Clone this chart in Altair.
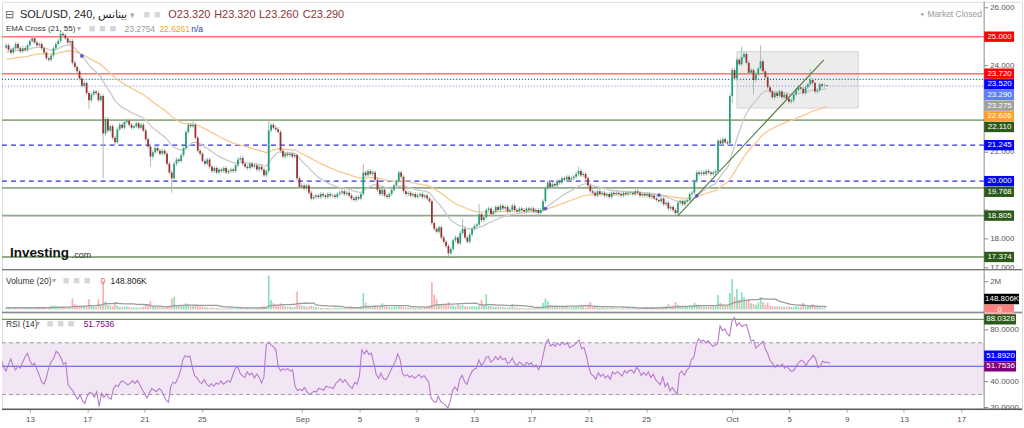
import altair as alt
import pandas as pd
import numpy as np

# ---------------- data ----------------
# 4-hour closes, one row per day, 2023-08-11 .. 2023-10-07
closes_by_day = [
    [24.70, 24.55, 24.45, 24.60, 24.75, 24.60],  # Aug 11
    [24.50, 24.60, 24.55, 24.70, 24.85, 24.95],  # Aug 12
    [24.80, 24.70, 24.75, 24.60, 24.45, 24.25],  # Aug 13
    [24.20, 24.35, 24.60, 24.75, 24.85, 25.10],  # Aug 14
    [25.05, 24.95, 24.80, 24.85, 24.10, 23.95],  # Aug 15
    [23.80, 23.55, 23.30, 23.40, 23.05, 22.80],  # Aug 16
    [23.00, 23.10, 23.05, 22.80, 22.95, 21.65],  # Aug 17
    [22.15, 21.75, 21.90, 21.50, 21.35, 21.80],  # Aug 18
    [21.95, 21.85, 22.05, 22.10, 21.95, 21.85],  # Aug 19
    [21.90, 22.00, 21.85, 21.95, 21.75, 21.45],  # Aug 20
    [21.20, 20.85, 21.00, 21.15, 21.05, 20.95],  # Aug 21
    [21.05, 20.95, 20.60, 20.30, 20.10, 20.60],  # Aug 22
    [20.75, 20.70, 20.90, 21.15, 21.70, 21.95],  # Aug 23
    [21.90, 21.95, 21.50, 21.05, 20.95, 20.70],  # Aug 24
    [20.60, 20.75, 20.50, 20.35, 20.45, 20.30],  # Aug 25
    [20.40, 20.35, 20.45, 20.30, 20.35, 20.40],  # Aug 26
    [20.35, 20.55, 20.75, 20.80, 20.60, 20.50],  # Aug 27
    [20.45, 20.60, 20.50, 20.55, 20.40, 20.50],  # Aug 28
    [20.40, 20.20, 20.35, 21.75, 21.95, 21.85],  # Aug 29
    [21.80, 21.70, 21.05, 20.85, 20.95, 20.90],  # Aug 30
    [20.95, 20.85, 20.90, 20.10, 19.80, 19.85],  # Aug 31
    [19.75, 19.85, 19.60, 19.40, 19.45, 19.50],  # Sep 1
    [19.45, 19.55, 19.50, 19.45, 19.55, 19.50],  # Sep 2
    [19.50, 19.45, 19.55, 19.60, 19.65, 19.55],  # Sep 3
    [19.60, 19.50, 19.40, 19.35, 19.45, 19.40],  # Sep 4
    [19.55, 20.30, 20.20, 20.35, 20.25, 20.30],  # Sep 5
    [20.05, 19.70, 19.55, 19.70, 19.50, 19.45],  # Sep 6
    [19.55, 19.70, 19.85, 20.00, 20.30, 20.15],  # Sep 7
    [19.65, 19.55, 19.60, 19.50, 19.55, 19.45],  # Sep 8
    [19.50, 19.55, 19.45, 19.50, 19.40, 19.30],  # Sep 9
    [18.55, 18.35, 18.25, 18.40, 18.05, 17.90],  # Sep 10
    [17.75, 17.50, 17.65, 17.95, 18.05, 17.85],  # Sep 11
    [18.20, 18.35, 18.05, 17.90, 18.15, 18.35],  # Sep 12
    [18.45, 18.50, 18.85, 18.65, 18.75, 19.00],  # Sep 13
    [19.05, 18.85, 18.95, 19.10, 19.00, 19.15],  # Sep 14
    [19.05, 19.10, 18.95, 19.00, 19.15, 19.00],  # Sep 15
    [18.95, 19.05, 19.00, 18.95, 19.05, 19.00],  # Sep 16
    [19.05, 18.95, 19.00, 18.90, 19.00, 19.30],  # Sep 17
    [19.75, 19.95, 19.80, 19.90, 19.85, 20.00],  # Sep 18
    [19.95, 20.10, 20.05, 20.15, 20.05, 20.10],  # Sep 19
    [20.15, 20.25, 20.35, 20.20, 20.25, 20.10],  # Sep 20
    [19.85, 19.65, 19.60, 19.50, 19.65, 19.55],  # Sep 21
    [19.60, 19.50, 19.55, 19.45, 19.60, 19.55],  # Sep 22
    [19.60, 19.55, 19.50, 19.60, 19.55, 19.60],  # Sep 23
    [19.60, 19.55, 19.65, 19.60, 19.50, 19.55],  # Sep 24
    [19.50, 19.55, 19.45, 19.50, 19.40, 19.35],  # Sep 25
    [19.30, 19.40, 19.20, 19.25, 19.05, 19.10],  # Sep 26
    [19.00, 18.90, 19.25, 19.30, 19.20, 19.30],  # Sep 27
    [19.35, 19.55, 19.60, 20.00, 20.30, 20.25],  # Sep 28
    [20.30, 20.25, 20.35, 20.30, 20.25, 20.30],  # Sep 29
    [20.35, 21.40, 21.30, 21.45, 21.35, 21.30],  # Sep 30
    [22.95, 23.85, 23.55, 24.20, 24.05, 24.30],  # Oct 1
    [24.40, 24.10, 23.75, 23.85, 23.50, 23.70],  # Oct 2
    [23.90, 24.15, 23.80, 23.60, 23.25, 23.10],  # Oct 3
    [22.90, 23.05, 22.95, 23.10, 22.90, 23.00],  # Oct 4
    [22.85, 22.75, 22.80, 23.00, 23.15, 23.25],  # Oct 5
    [23.20, 23.05, 23.25, 23.35, 23.50, 23.40],  # Oct 6
    [23.10, 23.15, 23.35, 23.30, 23.32, 23.29],  # Oct 7
]

# 4-hour volumes in thousands, same layout
volumes_by_day = [
    [150, 120, 100, 180, 130, 110], [200, 120, 90, 110, 160, 180],
    [140, 110, 120, 130, 150, 170], [160, 300, 280, 260, 200, 250],
    [220, 150, 140, 160, 800, 400], [300, 250, 200, 280, 220, 750],
    [300, 200, 180, 750, 250, 2050], [600, 350, 300, 250, 550, 300],
    [200, 180, 220, 250, 180, 150], [150, 170, 140, 160, 200, 350],
    [300, 600, 250, 200, 180, 150], [150, 160, 200, 250, 800, 900],
    [300, 250, 200, 280, 450, 350], [250, 300, 350, 280, 220, 200],
    [180, 150, 140, 130, 120, 110], [100, 90, 80, 90, 100, 95],
    [100, 150, 180, 130, 110, 120], [150, 130, 120, 140, 160, 180],
    [200, 250, 180, 2450, 700, 450], [350, 300, 450, 300, 250, 200],
    [200, 180, 220, 1300, 400, 300], [250, 200, 220, 280, 200, 180],
    [150, 120, 100, 110, 120, 100], [100, 110, 120, 130, 110, 150],
    [150, 180, 200, 160, 170, 180], [250, 1200, 500, 300, 250, 200],
    [300, 250, 220, 450, 200, 180], [170, 160, 180, 200, 250, 200],
    [180, 150, 160, 170, 150, 140], [130, 120, 140, 150, 200, 300],
    [1980, 1100, 750, 400, 350, 300], [350, 550, 300, 280, 250, 400],
    [300, 350, 250, 220, 200, 250], [250, 220, 300, 700, 350, 1100],
    [300, 250, 200, 180, 220, 200], [180, 160, 170, 150, 400, 200],
    [130, 120, 110, 100, 120, 110], [100, 110, 120, 130, 150, 500],
    [800, 600, 350, 300, 250, 220], [200, 220, 180, 200, 150, 170],
    [180, 200, 250, 300, 180, 160], [350, 550, 250, 200, 180, 150],
    [150, 140, 130, 120, 140, 130], [100, 90, 80, 90, 100, 90],
    [90, 100, 110, 90, 120, 130], [150, 160, 140, 150, 170, 200],
    [180, 200, 220, 250, 400, 250], [300, 550, 350, 250, 220, 200],
    [250, 300, 280, 500, 350, 300], [250, 220, 200, 180, 200, 220],
    [250, 1050, 500, 350, 300, 280], [1200, 2200, 900, 1500, 700, 1250],
    [900, 700, 750, 450, 400, 350], [500, 900, 550, 350, 500, 300],
    [250, 230, 220, 250, 200, 180], [200, 220, 180, 200, 250, 220],
    [200, 500, 250, 220, 300, 400], [200, 180, 170, 160, 150, 0],
]

first_open = 24.62
base_wick = 0.07
wick_high = {
    "2023-08-12 20:00": 25.00, "2023-08-14 20:00": 25.20, "2023-08-24 04:00": 22.10,
    "2023-08-29 12:00": 22.10, "2023-09-05 04:00": 20.60, "2023-09-12 04:00": 18.70,
    "2023-09-13 08:00": 19.20, "2023-09-20 08:00": 20.50, "2023-10-01 20:00": 24.66,
    "2023-10-03 04:00": 24.70, "2023-10-06 16:00": 23.90, "2023-10-07 20:00": 23.32,
}
wick_low = {
    "2023-08-16 20:00": 22.50, "2023-08-17 20:00": 20.10, "2023-08-21 04:00": 20.50,
    "2023-08-22 16:00": 19.60, "2023-09-11 04:00": 17.374, "2023-09-27 04:00": 18.82,
    "2023-10-01 04:00": 22.70, "2023-10-02 16:00": 23.00, "2023-10-07 20:00": 23.26,
}
ema_fast_seed, ema_slow_seed = 24.45, 24.20
rsi_gain_seed, rsi_loss_seed = 0.060, 0.050

red_levels = [25.0, 23.72]
blue_dot_levels = [23.52]
lightblue_dot_levels = [23.29]
blue_dash_levels = [21.245, 20.0]
green_levels = [22.11, 19.768, 18.805, 17.374]

trend_times = ["2023-09-27 08:00", "2023-10-07 15:00"]
trend_prices = [18.80, 24.20]
zone_times = ["2023-10-01 12:00", "2023-10-10 01:00"]
zone_prices = [22.53, 24.48]

price_tick_values = [17, 18, 19, 20, 21, 22, 23, 24, 25, 26]
price_tick_labels = [26, 24, 21, 18, 17]
price_label_values = [25.0, 23.72, 23.52, 23.29, 23.275, 22.626, 22.11, 21.245, 20.0, 19.768, 18.805, 17.374]
price_label_colors = ["#ff0000", "#ff0000", "#0000ff", "#5f7fff", "#a0a0a0", "#ffa126",
                      "#2d5a1b", "#0000ff", "#0000ff", "#2d5a1b", "#2d5a1b", "#2d5a1b"]
vol_label_values = [0, 148.806]
vol_label_texts = ["0", "148.806K"]
vol_label_colors = ["#ff8080", "#000000"]
rsi_levels = [88.0328, 51.892]
rsi_level_colors = ["#6f9a5c", "#5050e0"]
rsi_label_values = [51.7536, 51.892, 88.0328]
rsi_label_colors = ["#800080", "#0000ff", "#2d5a1b"]
rsi_tick_labels = [80, 40, 20]

date_ticks = ["2023-08-13", "2023-08-17", "2023-08-21", "2023-08-25", "2023-09-01", "2023-09-05",
              "2023-09-09", "2023-09-13", "2023-09-17", "2023-09-21", "2023-09-25", "2023-10-01",
              "2023-10-05", "2023-10-09", "2023-10-13", "2023-10-17"]

# ---------------- derived values ----------------
def ms(s):
    return int(pd.Timestamp(s, tz="UTC").value // 10**6)

closes = [c for day in closes_by_day for c in day]
vols = [v for day in volumes_by_day for v in day]
n = len(closes)
times = pd.date_range("2023-08-11 00:00", periods=n, freq="4h", tz="UTC")
t_ms = (times.asi8 // 10**6).tolist()
keys = times.strftime("%Y-%m-%d %H:%M").tolist()
opens = [first_open] + closes[:-1]
highs, lows = [], []
for k, o, c in zip(keys, opens, closes):
    highs.append(wick_high.get(k, max(o, c) + base_wick))
    lows.append(wick_low.get(k, min(o, c) - base_wick))

def ema(vals, span, seed):
    a = 2.0 / (span + 1)
    e, out = seed, []
    for v in vals:
        e = a * v + (1 - a) * e
        out.append(e)
    return out

ema21 = ema(closes, 21, ema_fast_seed)
ema55 = ema(closes, 55, ema_slow_seed)

ag, al, rsi = rsi_gain_seed, rsi_loss_seed, []
for o_prev, c in zip(opens, closes):
    ch = c - o_prev
    ag = (ag * 13 + max(ch, 0)) / 14
    al = (al * 13 + max(-ch, 0)) / 14
    rsi.append(100 - 100 / (1 + ag / al))

up = [c >= o for o, c in zip(opens, closes)]
body_lo = [min(o, c) for o, c in zip(opens, closes)]
body_hi = [max(max(o, c), min(o, c) + 0.02) for o, c in zip(opens, closes)]

df = pd.DataFrame({
    "t": t_ms, "open": opens, "close": closes, "high": highs, "low": lows,
    "blo": body_lo, "bhi": body_hi,
    "ccol": ["#26a07a" if u else "#9e3131" for u in up],
    "vcol": ["#86e3bb" if u else "#fbb0b0" for u in up],
    "vol": vols, "volma": pd.Series(vols).rolling(20, min_periods=1).mean(),
    "ema21": ema21, "ema55": ema55, "rsi": rsi,
})
diff = np.sign(np.array(ema21) - np.array(ema55))
cross_idx = [i for i in range(1, n) if diff[i] != diff[i - 1]]
df_cross = df.iloc[cross_idx]

# ---------------- layout / style ----------------
W = 1024
AX = 986
H_P, H_V, H_R = 269, 43, 97
P_DOM = [16.931, 26.207]
V_DOM = [-214, 2857]
R_DOM = [18.69, 93.31]
FONT = "Liberation Sans"
DUMMY = pd.DataFrame({"a": [0]})
XS = alt.Scale(type="utc", domain=[ms("2023-08-11 01:17"), ms("2023-10-21 05:44")], nice=False)
PS = alt.Scale(domain=P_DOM, nice=False, zero=False)
VS = alt.Scale(domain=V_DOM, nice=False, zero=False)
RS = alt.Scale(domain=R_DOM, nice=False, zero=False)


def X(field="t", axis=None):
    return alt.X(f"{field}:T", scale=XS, axis=axis)


def Y(field, scale):
    return alt.Y(f"{field}:Q", scale=scale, axis=None)


def txt(s, x, y, color="#333", size=8.5, weight="normal", align="left"):
    return alt.Chart(DUMMY).mark_text(
        text=s, align=align, baseline="middle", color=color, fontSize=size,
        fontWeight=weight, font=FONT).encode(x=alt.value(x), y=alt.value(y))


def hlines(values, scale, color, width=1.0, dash=None, opacity=1.0):
    kw = dict(color=color, strokeWidth=width, opacity=opacity)
    if dash:
        kw["strokeDash"] = dash
    return alt.Chart(pd.DataFrame({"v": values})).mark_rule(**kw).encode(
        x=alt.value(0), x2=alt.value(AX), y=Y("v", scale))


def stack_labels(values, scale_dom, height, gap_px=10.7, downward=True):
    per_unit = height / (scale_dom[1] - scale_dom[0])
    gap = gap_px / per_unit
    out, prev = [], None
    for v in values:
        if prev is None:
            d = v
        elif downward:
            d = min(v, prev - gap)
        else:
            d = max(v, prev + gap)
        out.append(d)
        prev = d
    return out


def label_boxes(values, texts, colors, scale, dom, height, box_w, downward=True):
    disp = stack_labels(values, dom, height, downward=downward)
    r = box_w / 2.0
    hh = 5.2 / r
    path = f"M-1,-{hh:.4f}L1,-{hh:.4f}L1,{hh:.4f}L-1,{hh:.4f}Z"
    d = pd.DataFrame({"d": disp, "txt": texts, "col": colors})
    cx = AX + r
    box = alt.Chart(d).mark_point(filled=True, opacity=1, shape=path, size=box_w * box_w,
                                  strokeWidth=0).encode(
        x=alt.value(cx), y=Y("d", scale), color=alt.Color("col:N", scale=None))
    lab = alt.Chart(d).mark_text(color="white", fontSize=8, font=FONT, align="center",
                                 baseline="middle").encode(
        x=alt.value(cx + 0.5), y=Y("d", scale), text="txt:N")
    return [box, lab]


def axis_layers(tick_vals, label_vals, fmt, scale, height):
    ticks = alt.Chart(pd.DataFrame({"v": tick_vals})).mark_rule(color="#888", strokeWidth=1).encode(
        x=alt.value(AX), x2=alt.value(AX + 4), y=Y("v", scale))
    labs = alt.Chart(pd.DataFrame({"v": label_vals, "s": [fmt(v) for v in label_vals]})).mark_text(
        color="#555", fontSize=8, font=FONT, align="left", baseline="middle").encode(
        x=alt.value(AX + 6), y=Y("v", scale), text="s:N")
    vline = alt.Chart(DUMMY).mark_rule(color="#8a8a8a", strokeWidth=1).encode(
        x=alt.value(AX), y=alt.value(0), y2=alt.value(height))
    sep = alt.Chart(DUMMY).mark_rule(color="#5a5a5a", strokeWidth=1.5).encode(
        x=alt.value(0), x2=alt.value(W), y=alt.value(height))
    return [vline, ticks, labs, sep]


def icons(x0, y, k):
    return [txt("\u25a0", x0 + 10.5 * i, y, color="#d6d6d6", size=11) for i in range(k)]


# ---------------- price panel ----------------
zone = alt.Chart(pd.DataFrame({"t1": [ms(zone_times[0])], "t2": [ms(zone_times[1])],
                               "p1": [zone_prices[0]], "p2": [zone_prices[1]]})).mark_rect(
    fill="#e6e6e6", opacity=0.75, stroke="#c6c6c6", strokeWidth=1).encode(
    x=X("t1"), x2="t2:T", y=Y("p1", PS), y2="p2:Q")

lvl = [
    hlines(red_levels, PS, "#ff5a5a", 1.5, opacity=0.85),
    hlines(blue_dot_levels, PS, "#3a3aff", 1.2, [1, 2]),
    hlines(lightblue_dot_levels, PS, "#8a9cff", 1.2, [1, 2]),
    hlines(blue_dash_levels, PS, "#2f2ff0", 1.2, [5, 4]),
    hlines(green_levels, PS, "#86a07a", 1.8, opacity=0.9),
]

base = alt.Chart(df)
e55 = base.mark_line(color="#f8c98c", strokeWidth=1.3, clip=True).encode(x=X(), y=Y("ema55", PS))
e21 = base.mark_line(color="#c9c9c9", strokeWidth=1.3, clip=True).encode(x=X(), y=Y("ema21", PS))
wicks = base.mark_rule(color="#a6c2b3", strokeWidth=1, clip=True).encode(
    x=X(), y=Y("low", PS), y2="high:Q")
bodies = base.mark_bar(width=1.8, clip=True).encode(
    x=X(), y=Y("blo", PS), y2="bhi:Q", color=alt.Color("ccol:N", scale=None))
trend = alt.Chart(pd.DataFrame({"t": [ms(s) for s in trend_times], "p": trend_prices})).mark_line(
    color="#4d7a3c", strokeWidth=1.1).encode(x=X(), y=Y("p", PS))
crosses = alt.Chart(df_cross).mark_point(filled=True, color="#4b4bc8", size=14, opacity=0.9).encode(
    x=X(), y=Y("ema21", PS))

price_layers = [zone] + lvl + [e55, e21, wicks, bodies, trend, crosses]
price_layers += axis_layers(price_tick_values, price_tick_labels, lambda v: f"{v:.3f}", PS, H_P)
price_layers += label_boxes(price_label_values, [f"{v:.3f}" for v in price_label_values],
                            price_label_colors, PS, P_DOM, H_P, 30, downward=True)
price_layers += [
    txt("\u229f", 3, 13, color="#666", size=11),
    txt("SOL/USD, 240, بينانس", 18, 13, color="#222", size=11),
    txt("\u25be", 129, 13, color="#aaa", size=9),
] + icons(142, 13, 2) + [
    txt("O23.320", 167, 13, color="#8b3535", size=11),
    txt("H23.320", 213, 13, color="#8b3535", size=11),
    txt("L23.260", 258, 13, color="#8b3535", size=11),
    txt("C23.290", 302, 13, color="#8b3535", size=11),
    txt("EMA Cross (21, 55)", 4, 27, color="#333", size=8),
    txt("\u25be", 75, 27, color="#aaa", size=8),
] + icons(87, 27, 3) + [
    txt("23.2754", 123, 27, color="#999", size=8.5),
    txt("22.6261", 158, 27, color="#f5a623", size=8.5),
    txt("n/a", 190, 27, color="#1f3f9f", size=8.5),
    txt("\u25cf", 922, 12, color="#999", size=6),
    txt("Market Closed", 929, 12, color="#999", size=8.5),
    txt("Investing", 8, 252, color="#111", size=13.5, weight="bold"),
    txt(".com", 70, 254, color="#333", size=9),
]
price = alt.layer(*price_layers).properties(width=W, height=H_P)

# ---------------- volume panel ----------------
vbars = base.mark_bar(width=1.7, clip=True).encode(
    x=X(), y=Y("vol", VS), y2=alt.datum(0), color=alt.Color("vcol:N", scale=None))
vma = base.mark_line(color="#9c9c9c", strokeWidth=1.3, clip=True).encode(x=X(), y=Y("volma", VS))
vol_layers = [vbars, vma]
vol_layers += axis_layers([2000], [2000], lambda v: "2M", VS, H_V)
vol_layers += label_boxes(vol_label_values[:1], vol_label_texts[:1], vol_label_colors[:1],
                          VS, V_DOM, H_V, 30)
vol_disp = stack_labels(vol_label_values, V_DOM, H_V, downward=False)
vol_layers += label_boxes([vol_disp[1]], vol_label_texts[1:], vol_label_colors[1:],
                          VS, V_DOM, H_V, 35)
vol_layers += [
    txt("Volume (20)", 4, 11, color="#333", size=8.5),
    txt("\u25be", 50, 11, color="#aaa", size=8),
] + icons(61, 11, 3) + [
    txt("0", 99, 11, color="#f06060", size=8.5),
    txt("148.806K", 109, 11, color="#222", size=8.5),
]
volume = alt.layer(*vol_layers).properties(width=W, height=H_V)

# ---------------- RSI panel ----------------
band = alt.Chart(DUMMY).mark_rect(color="#f3e6f4").encode(
    x=alt.value(0), x2=alt.value(AX),
    y=alt.Y(datum=70, type="quantitative", scale=RS, axis=None), y2=alt.datum(30))
bands = hlines([70, 30], RS, "#9a9a9a", 1, [4, 3])
rlev = [hlines([v], RS, c, 1.2) for v, c in zip(rsi_levels, rsi_level_colors)]
xaxis = alt.Axis(values=[ms(d) for d in date_ticks],
                 labelExpr="utcdate(datum.value) == 1 ? utcFormat(datum.value, '%b') : utcFormat(datum.value, '%-d')",
                 domain=False, grid=False, ticks=True, tickSize=3, tickColor="#aaa",
                 labelFontSize=8, labelColor="#555", labelFont=FONT, labelPadding=3,
                 labelOverlap=False, labelFlush=False, title=None)
rline = base.mark_line(color="#b57bcc", strokeWidth=1.1, clip=True).encode(
    x=X(axis=xaxis), y=Y("rsi", RS))
rsi_layers = [band, bands] + rlev + [rline]
rsi_layers += axis_layers([80, 60, 40, 20], rsi_tick_labels, lambda v: f"{v:.4f}", RS, H_R)
rsi_layers += label_boxes(rsi_label_values, [f"{v:.4f}" for v in rsi_label_values],
                          rsi_label_colors, RS, R_DOM, H_R, 32, downward=False)
rsi_layers += [
    txt("RSI (14)", 4, 11, color="#333", size=8.5),
    txt("\u25be", 34, 11, color="#aaa", size=8),
] + icons(45, 11, 3) + [
    txt("51.7536", 82, 11, color="#800080", size=8.5),
]
rsi_panel = alt.layer(*rsi_layers).properties(width=W, height=H_R)

chart = alt.vconcat(price, volume, rsi_panel, spacing=0, bounds="flush").properties(
    padding={"left": 0, "top": 0, "right": 0, "bottom": 0}
).configure_view(stroke=None).configure(background="white")

chart.save("out.html", embed_options={"renderer": "svg", "actions": False})
